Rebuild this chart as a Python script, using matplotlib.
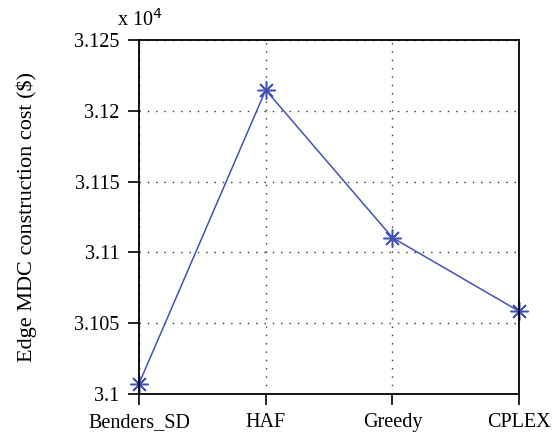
import numpy as np
import matplotlib.pyplot as plt
from matplotlib.ticker import FuncFormatter

methods = ['Benders_SD', 'HAF', 'Greedy', 'CPLEX']
# cost in units of 10^4 $
cost = [3.10073, 3.12147, 3.11104, 3.10584]
yticks = [3.1, 3.105, 3.11, 3.115, 3.12, 3.125]

plt.rcParams['font.family'] = 'Liberation Serif'
plt.rcParams['font.size'] = 14

fig = plt.figure(figsize=(5.59, 4.34), dpi=100)
ax = fig.add_axes([0.2487, 0.0922, 0.680, 0.8157])

x = np.arange(1, len(methods) + 1)
ax.plot(x, cost, color='#4452b4', linewidth=1.1,
        marker=(8, 2, 0), markersize=13, markeredgewidth=1.1, clip_on=False)

ax.set_xlim(1, 4)
ax.set_ylim(3.1, 3.125)
ax.set_xticks(x)
ax.set_xticklabels(methods)
ax.set_yticks(yticks)
ax.yaxis.set_major_formatter(FuncFormatter(lambda v, p: f'{v:g}'))

ax.grid(True, color='#333333', linestyle=(0, (1, 5)), linewidth=1)
ax.set_axisbelow(True)
ax.tick_params(direction='out', length=8, width=1.2, pad=6, labelsize=14.5)
for s in ax.spines.values():
    s.set_linewidth(1.3)

ax.set_ylabel('Edge MDC construction cost ($)', fontsize=16)
ax.yaxis.label.set_va('center')
ax.yaxis.set_label_coords(-0.295, 0.5)
fig.text(0.21, 0.955, 'x 10$^4$', fontsize=14.5, ha='left', va='center')

fig.savefig('out.png', dpi=100)
